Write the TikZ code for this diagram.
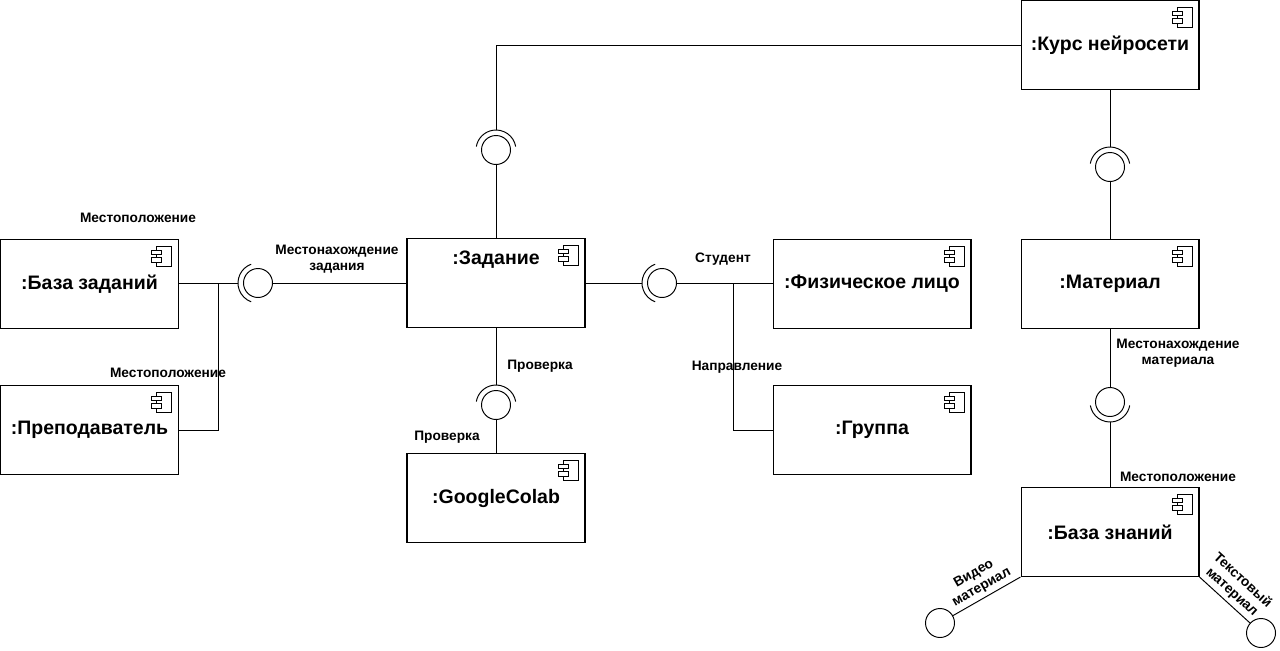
\documentclass[tikz,border=0pt]{standalone}
\usepackage{fontspec}
\setmainfont{Liberation Sans}
\tikzstyle{title} = [font=\bfseries\fontsize{11.1}{13}\selectfont]
\tikzstyle{component} = [rectangle, minimum width=3.56cm, minimum height=1.78cm, draw=black, line width=0.6pt, fill=white, title,
  path picture={
    \draw [line width=0.45pt] ([xshift=-0.44cm, yshift=-0.13cm]path picture bounding box.north east) rectangle ++(0.3cm,-0.4cm);
    \draw [line width=0.45pt, fill=white] ([xshift=-0.54cm, yshift=-0.21cm]path picture bounding box.north east) rectangle ++(0.2cm,-0.09cm);
    \draw [line width=0.45pt, fill=white] ([xshift=-0.54cm, yshift=-0.36cm]path picture bounding box.north east) rectangle ++(0.2cm,-0.09cm);
  }]
\tikzstyle{ball} = [circle, draw=black, line width=0.55pt, fill=white, minimum size=0.58cm, inner sep=0pt]
\tikzstyle{socket} = [line width=0.55pt]
\tikzstyle{lbl} = [font=\bfseries\fontsize{7.8}{9}\selectfont, align=center, inner sep=1pt]
\tikzstyle{link} = [line width=0.55pt]

\begin{document}
\begin{tikzpicture}[x=0.02cm, y=-0.02cm, node distance=2.92cm]
  \useasboundingbox (0,0) rectangle (1280,650);
  % components
  \node (tasks) [component] at (89.5,284) {:База заданий};
  \node (teacher) [component, below of=tasks] {:Преподаватель};
  \node (task) [component, label={[title, yshift=0.46cm]center:{:Задание}}] at (496,283) {};
  \node (colab) [component] at (496,498) {:GoogleColab};
  \node (person) [component, minimum width=3.96cm] at (872,284) {:Физическое лицо};
  \node (group) [component, minimum width=3.96cm, below of=person] {:Группа};
  \node (course) [component] at (1110,45) {:Курс нейросети};
  \node (material) [component] at (1110,284) {:Материал};
  \node (kb) [component] at (1110,532) {:База знаний};

  % interfaces
  \node (s1) [ball] at (258,283) {};
  \node (s2) [ball] at (496,150) {};
  \node (s3) [ball] at (496,405) {};
  \node (s4) [ball] at (662,283) {};
  \node (s5) [ball] at (1110,167) {};
  \node (s6) [ball] at (1110,402) {};
  \node (vball) [ball] at (940,623) {};
  \node (tball) [ball] at (1261,633) {};
  \draw [socket] ([shift={(110:0.4cm)}]s1.center) arc [start angle=110, end angle=250, radius=0.4cm];
  \draw [socket] ([shift={(10:0.4cm)}]s2.center) arc [start angle=10, end angle=170, radius=0.4cm];
  \draw [socket] ([shift={(10:0.4cm)}]s3.center) arc [start angle=10, end angle=170, radius=0.4cm];
  \draw [socket] ([shift={(110:0.4cm)}]s4.center) arc [start angle=110, end angle=250, radius=0.4cm];
  \draw [socket] ([shift={(10:0.4cm)}]s5.center) arc [start angle=10, end angle=170, radius=0.4cm];
  \draw [socket] ([shift={(190:0.4cm)}]s6.center) arc [start angle=190, end angle=350, radius=0.4cm];
  \coordinate (s1tip) at ([xshift=-0.4cm]s1.center);
  \coordinate (s2tip) at ([yshift=0.4cm]s2.center);
  \coordinate (s3tip) at ([yshift=0.4cm]s3.center);
  \coordinate (s4tip) at ([xshift=-0.4cm]s4.center);
  \coordinate (s5tip) at ([yshift=0.4cm]s5.center);
  \coordinate (s6tip) at ([yshift=-0.4cm]s6.center);
  \coordinate (j1) at (218,283);
  \coordinate (j2) at (733,283);

  % connectors
  \draw [link] (j1) -- (s1tip);
  \draw [link] (tasks.east |- j1) -- (j1);
  \draw [link] (teacher.east) -| (j1);
  \draw [link] (s1) -- (task.west |- s1);
  \draw [link] (task) -- (s2);
  \draw [link] (s2tip) |- (course.west);
  \draw [link] (task) -- (s3tip);
  \draw [link] (s3) -- (colab);
  \draw [link] (task.east) -- (s4tip);
  \draw [link] (s4) -- (person.west |- s4);
  \draw [link] (j2) |- (group.west);
  \draw [link] (course) -- (s5tip);
  \draw [link] (s5) -- (material);
  \draw [link] (material) -- (s6);
  \draw [link] (s6tip) -- (kb);
  \draw [link] (vball) -- node [lbl, sloped, above, inner sep=2pt] {Видео\\материал} (kb.south west);
  \draw [link] (kb.south east) -- node [lbl, sloped, above, inner sep=2pt] {Текстовый\\материал} (tball);

  % labels
  \node (loc1) [lbl] at (138,218) {Местоположение};
  \node (loc2) [lbl] at (168,373) {Местоположение};
  \node (taskloc) [lbl] at (337,259) {Местонахождение\\задания};
  \node (check1) [lbl] at (540,366) {Проверка};
  \node (check2) [lbl] at (447,437) {Проверка};
  \node (student) [lbl] at (723,259) {Студент};
  \node (direction) [lbl] at (737,367) {Направление};
  \node (matloc) [lbl] at (1178,353) {Местонахождение\\материала};
  \node (loc3) [lbl] at (1178,477) {Местоположение};
\end{tikzpicture}
\end{document}
